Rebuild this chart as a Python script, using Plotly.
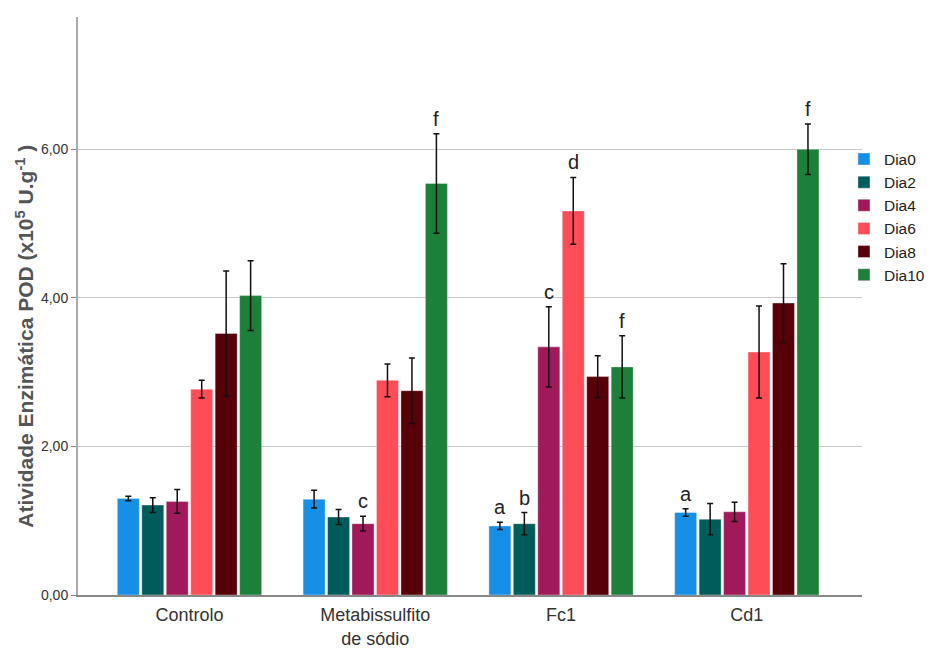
import plotly.graph_objects as go

categories = ["Controlo", "Metabissulfito<br>de sódio", "Fc1", "Cd1"]
series_names = ["Dia0", "Dia2", "Dia4", "Dia6", "Dia8", "Dia10"]

dia0 = [1.30, 1.29, 0.93, 1.11]
dia2 = [1.21, 1.05, 0.96, 1.02]
dia4 = [1.26, 0.96, 3.34, 1.12]
dia6 = [2.77, 2.89, 5.17, 3.27]
dia8 = [3.52, 2.75, 2.94, 3.93]
dia10 = [4.03, 5.54, 3.07, 6.00]

err0 = [0.03, 0.12, 0.05, 0.05]
err2 = [0.10, 0.10, 0.15, 0.21]
err4 = [0.16, 0.10, 0.54, 0.13]
err6 = [0.12, 0.22, 0.45, 0.62]
err8 = [0.84, 0.44, 0.28, 0.53]
err10 = [0.47, 0.67, 0.42, 0.34]

# significance letters: (category index, series index, letter)
letters = [
    (1, 2, "c"), (1, 5, "f"),
    (2, 0, "a"), (2, 1, "b"), (2, 2, "c"), (2, 3, "d"), (2, 5, "f"),
    (3, 0, "a"), (3, 5, "f"),
]

y_ticks = [0, 2, 4, 6]
y_title = "Atividade Enzimática POD (x10<sup>5</sup> U.g<sup>-1</sup> )"

colors = ["#168FE6", "#005C5A", "#A0195A", "#FF4D57", "#570008", "#1C7F3A"]
values = [dia0, dia2, dia4, dia6, dia8, dia10]
errors = [err0, err2, err4, err6, err8, err10]

FONT = "Liberation Sans, Arial, sans-serif"
bargap = 0.21
fig = go.Figure()
for name, vals, errs, col in zip(series_names, values, errors, colors):
    fig.add_trace(go.Bar(
        name=name, x=categories, y=vals,
        marker=dict(color=col, line=dict(color="rgba(255,255,255,0.35)", width=1)),
        error_y=dict(type="data", array=errs, visible=True, color="#111111",
                     thickness=1.5, width=3),
    ))

n = len(series_names)
slot = (1 - bargap) / n
annotations = []
for ci, si, letter in letters:
    xpos = ci + (si - (n - 1) / 2) * slot
    ypos = values[si][ci] + errors[si][ci]
    annotations.append(dict(
        x=xpos, y=ypos, xref="x", yref="y", text=letter, showarrow=False,
        yanchor="bottom", yshift=2,
        font=dict(family=FONT, size=20, color="#222222"),
    ))

# y-axis title (placed like the original, slightly below the axis centre)
annotations.append(dict(
    x=-0.068, y=0.448, xref="paper", yref="paper", text=y_title,
    textangle=-90, showarrow=False, xanchor="center", yanchor="middle",
    font=dict(family=FONT, size=21, color="#555555", weight="bold"),
))

fig.update_layout(
    width=924, height=640,
    margin=dict(l=70, r=70, t=9, b=53, autoexpand=False),
    paper_bgcolor="white", plot_bgcolor="white",
    barmode="group", bargap=bargap, bargroupgap=0.1,
    separators=",.",
    font=dict(family=FONT, color="#333333"),
    legend=dict(x=0.977, y=0.783, xanchor="left", yanchor="top",
                font=dict(size=15.5, color="#222222"), tracegroupgap=0,
                itemwidth=30, bgcolor="rgba(0,0,0,0)"),
    annotations=annotations,
    showlegend=True,
)
fig.update_xaxes(
    type="category", range=[-0.6, 3.62], automargin=False,
    showline=True, linecolor="#888888", linewidth=1.5,
    showgrid=False, ticks="", ticklabelstandoff=3,
    tickfont=dict(size=18, color="#333333"),
)
fig.update_yaxes(
    range=[0, 7.78], tickvals=y_ticks, tickformat=".2f", automargin=False,
    showline=True, linecolor="#AAAAAA", linewidth=2,
    showgrid=True, gridcolor="#C8C8C8", gridwidth=1.3,
    zeroline=False, ticks="outside", ticklen=5, tickcolor="#888888",
    tickfont=dict(size=14, color="#333333"),
)

fig.write_html("out.html")
